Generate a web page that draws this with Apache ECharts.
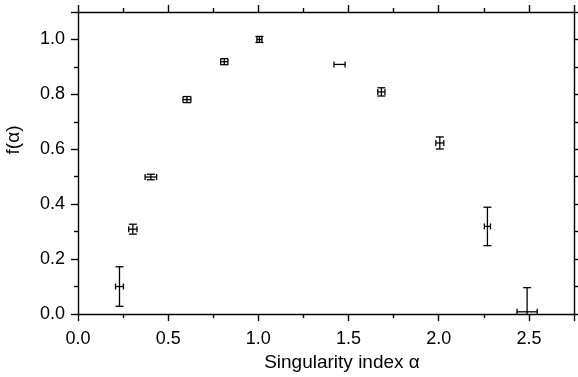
<!DOCTYPE html>
<html>
<head>
<meta charset="utf-8">
<script src="https://cdn.jsdelivr.net/npm/echarts@6/dist/echarts.min.js"></script>
<style>
  html, body { margin: 0; padding: 0; background: #fff; }
  #chart { width: 578px; height: 377px; }
</style>
</head>
<body>
<div id="chart"></div>
<script>
// singularity spectrum points
const alpha    = [0.23, 0.304, 0.404, 0.604, 0.811, 1.006, 1.45, 1.682, 2.006, 2.27, 2.49];
const fAlpha   = [0.10, 0.309, 0.499, 0.781, 0.919, 1.0, 0.909, 0.809, 0.623, 0.319, 0.008];
const alphaErr = [0.022, 0.023, 0.032, 0.022, 0.02, 0.014, 0.031, 0.02, 0.022, 0.017, 0.056];
const fErr     = [0.072, 0.018, 0.01, 0.011, 0.011, 0.011, 0, 0.015, 0.022, 0.07, 0.088];

const font = 'Liberation Sans';
const ink = '#000';

const points = alpha.map((a, i) => [a, fAlpha[i], alphaErr[i], fErr[i]]);

function errorBars(params, api) {
  const x = api.value(0), y = api.value(1);
  const dx = api.value(2), dy = api.value(3);
  const c = api.coord([x, y]);
  const style = { stroke: ink, lineWidth: 1.3 };
  const parts = [];
  const seg = (x1, y1, x2, y2) => parts.push({
    type: 'line', shape: { x1, y1, x2, y2 }, style
  });
  if (dx > 0) {
    const l = api.coord([x - dx, y]), r = api.coord([x + dx, y]);
    seg(l[0], c[1], r[0], c[1]);
    seg(l[0], c[1] - 3, l[0], c[1] + 3);
    seg(r[0], c[1] - 3, r[0], c[1] + 3);
  }
  if (dy > 0) {
    const t = api.coord([x, y + dy]), b = api.coord([x, y - dy]);
    seg(c[0], t[1], c[0], b[1]);
    seg(c[0] - 4, t[1], c[0] + 4, t[1]);
    seg(c[0] - 4, b[1], c[0] + 4, b[1]);
  }
  return { type: 'group', children: parts };
}

const lineStyle = { color: ink, width: 1.4 };
const xBase = {
  min: 0, max: 2.75, interval: 0.5,
  axisLine: { onZero: false, lineStyle },
  axisTick: { inside: false, length: 7, lineStyle },
  minorTick: { show: true, splitNumber: 2, length: 4, lineStyle },
  splitLine: { show: false }
};
const yBase = {
  min: 0, max: 1.1, interval: 0.2,
  axisLine: { onZero: false, lineStyle },
  axisTick: { inside: false, length: 7, lineStyle },
  minorTick: { show: true, splitNumber: 2, length: 4, lineStyle },
  splitLine: { show: false }
};

const chart = echarts.init(document.getElementById('chart'));
chart.setOption({
  animation: false,
  backgroundColor: '#fff',
  grid: { left: 78, right: 4, top: 12, bottom: 63, outerBoundsMode: 'none' },
  xAxis: [
    Object.assign({}, xBase, {
      type: 'value', position: 'bottom',
      name: 'Singularity index α', nameLocation: 'middle', nameGap: 38,
      nameTextStyle: { fontFamily: font, fontSize: 19, color: ink, padding: [0, 0, 0, 32] },
      axisLabel: { fontFamily: font, fontSize: 18, color: ink, margin: 16,
        showMaxLabel: false, formatter: v => v.toFixed(1) }
    }),
    Object.assign({}, xBase, {
      type: 'value', position: 'top', axisLabel: { show: false }
    })
  ],
  yAxis: [
    Object.assign({}, yBase, {
      type: 'value', position: 'left',
      name: 'f(α)', nameLocation: 'middle', nameGap: 55,
      nameTextStyle: { fontFamily: font, fontSize: 19, color: ink, padding: [0, 0, 0, 46] },
      axisLabel: { fontFamily: font, fontSize: 18, color: ink, margin: 13,
        showMaxLabel: false, formatter: v => v.toFixed(1) }
    }),
    Object.assign({}, yBase, {
      type: 'value', position: 'right', axisLabel: { show: false }
    })
  ],
  series: [{
    type: 'custom',
    renderItem: errorBars,
    clip: true,
    data: points,
    encode: { x: 0, y: 1 }
  }]
});
</script>
</body>
</html>
